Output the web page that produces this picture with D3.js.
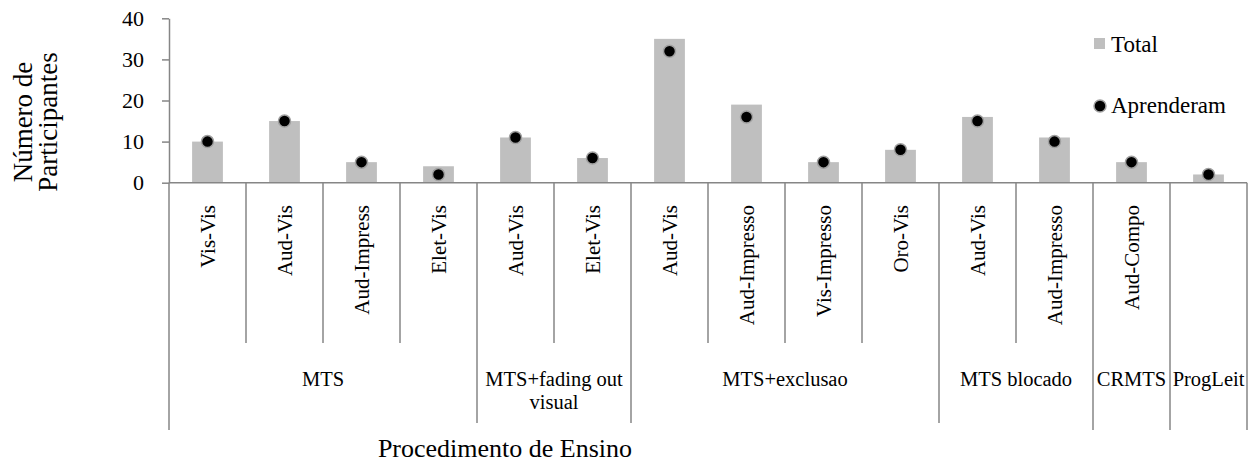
<!DOCTYPE html>
<html>
<head>
<meta charset="utf-8">
<script src="https://cdn.jsdelivr.net/npm/d3@7"></script>
<style>
  html, body { margin: 0; padding: 0; background: #fff; }
  svg { display: block; font-family: "Liberation Serif", "Times New Roman", serif; }
</style>
</head>
<body>
<svg id="chart" width="1253" height="462"></svg>
<script>
// ---- data ----
const categories = ["Vis-Vis","Aud-Vis","Aud-Impress","Elet-Vis","Aud-Vis","Elet-Vis","Aud-Vis","Aud-Impresso","Vis-Impresso","Oro-Vis","Aud-Vis","Aud-Impresso","Aud-Compo",""];
const groups = ["MTS", "MTS+fading out|visual", "MTS+exclusao", "MTS blocado", "CRMTS", "ProgLeit"];
const groupOf = [0,0,0,0,1,1,2,2,2,2,3,3,4,5];
const totalValues = [10,15,5,4,11,6,35,19,5,8,16,11,5,2];
const learnedValues = [10,15,5,2,11,6,32,16,5,8,15,10,5,2];
const yTicks = [0,10,20,30,40];
const seriesNames = ["Total", "Aprenderam"];
const yTitle = ["Número de", "Participantes"];
const xTitle = "Procedimento de Ensino";

// ---- layout ----
const svg = d3.select("#chart");
const axisColor = "#868686";
const barColor = "#bfbfbf";
const plotLeft = 169, plotRight = 1247, plotTop = 18.3, plotBottom = 182.7;

const x = d3.scaleBand().domain(d3.range(categories.length)).range([plotLeft, plotRight]).paddingInner(0).paddingOuter(0);
const y = d3.scaleLinear().domain([0, 40]).range([plotBottom, plotTop]);
const barW = x.bandwidth() * 0.4;

// bars
svg.append("g").selectAll("rect").data(totalValues).join("rect")
  .attr("x", (d, i) => x(i) + (x.bandwidth() - barW) / 2)
  .attr("y", d => y(d))
  .attr("width", barW)
  .attr("height", d => y(0) - y(d))
  .attr("fill", barColor);

// y axis
const yAxis = svg.append("g").attr("transform", `translate(${plotLeft},0)`)
  .call(d3.axisLeft(y).tickValues(yTicks).tickSize(7).tickSizeOuter(0).tickPadding(18));
yAxis.select(".domain").attr("stroke", axisColor).attr("stroke-width", 1.5);
yAxis.selectAll(".tick line").attr("stroke", axisColor).attr("stroke-width", 1.5);
yAxis.selectAll(".tick text").attr("font-size", 22).attr("fill", "#000")
  .attr("font-family", "Liberation Serif");

// x axis line
svg.append("line").attr("x1", plotLeft).attr("x2", plotRight).attr("y1", y(0)).attr("y2", y(0))
  .attr("stroke", axisColor).attr("stroke-width", 1.5);

// separators
const n = categories.length;
const groupSize = g => groupOf.filter(v => v === g).length;
const sep = svg.append("g").attr("stroke", axisColor).attr("stroke-width", 1.5);
for (let i = 0; i <= n; i++) {
  const xp = i === n ? x(n - 1) + x.bandwidth() : x(i);
  const isGroupEdge = i === 0 || i === n || groupOf[i] !== groupOf[i - 1];
  let end = 343;
  if (isGroupEdge) {
    const single = (i < n && groupSize(groupOf[i]) === 1) || (i > 0 && groupSize(groupOf[i - 1]) === 1);
    end = (i === 0 || i === n || single) ? 430 : 423;
  }
  sep.append("line").attr("x1", xp).attr("x2", xp).attr("y1", y(0)).attr("y2", end);
}

// category labels (rotated)
svg.append("g").selectAll("text").data(categories).join("text")
  .attr("transform", (d, i) => `translate(${x(i) + x.bandwidth() / 2 + 7},205) rotate(-90)`)
  .attr("text-anchor", "end")
  .attr("font-size", 21)
  .attr("fill", "#000")
  .text(d => d);

// group labels
const gLabels = svg.append("g");
groups.forEach((g, gi) => {
  const idx = groupOf.map((v, i) => v === gi ? i : -1).filter(i => i >= 0);
  const x0 = x(idx[0]), x1 = x(idx[idx.length - 1]) + x.bandwidth();
  const lines = g.split("|");
  const t = gLabels.append("text").attr("text-anchor", "middle").attr("font-size", 20.5).attr("fill", "#000");
  lines.forEach((ln, li) => {
    t.append("tspan").attr("x", (x0 + x1) / 2).attr("y", 386 + li * 23).text(ln);
  });
});

// dots
svg.append("g").selectAll("circle").data(learnedValues).join("circle")
  .attr("cx", (d, i) => x(i) + x.bandwidth() / 2)
  .attr("cy", d => y(d))
  .attr("r", 6)
  .attr("fill", "#000")
  .attr("stroke", "#a0a0a0")
  .attr("stroke-width", 1.5);

// legend
const lg = svg.append("g");
lg.append("rect").attr("x", 1094).attr("y", 38).attr("width", 11).attr("height", 11).attr("fill", barColor);
lg.append("text").attr("x", 1111).attr("y", 52).attr("font-size", 23).attr("fill", "#000").text(seriesNames[0]);
lg.append("circle").attr("cx", 1100).attr("cy", 106).attr("r", 6).attr("fill", "#000").attr("stroke", "#a0a0a0").attr("stroke-width", 1.5);
lg.append("text").attr("x", 1111).attr("y", 113).attr("font-size", 23).attr("fill", "#000").text(seriesNames[1]);

// axis titles
svg.append("text").attr("x", 505).attr("y", 457).attr("text-anchor", "middle")
  .attr("font-size", 26).attr("fill", "#000").text(xTitle);
const yt = svg.append("text").attr("transform", "translate(0,122) rotate(-90)")
  .attr("text-anchor", "middle").attr("font-size", 27).attr("fill", "#000");
yTitle.forEach((ln, li) => {
  yt.append("tspan").attr("x", 0).attr("y", 32 + li * 25).text(ln);
});
</script>
</body>
</html>
